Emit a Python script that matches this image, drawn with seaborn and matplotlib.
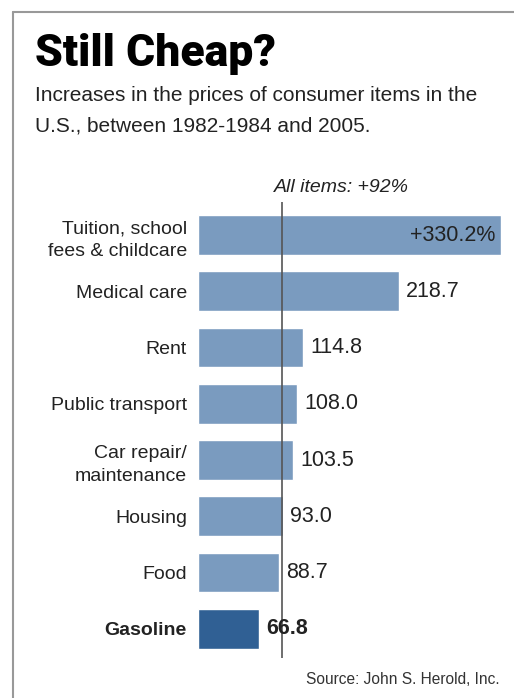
import seaborn as sns
import matplotlib.pyplot as plt
from matplotlib.lines import Line2D

# Data
categories = ['Tuition, school\nfees & childcare', 'Medical care', 'Rent', 'Public transport',
              'Car repair/\nmaintenance', 'Housing', 'Food', 'Gasoline']
increases = [330.2, 218.7, 114.8, 108.0, 103.5, 93.0, 88.7, 66.8]
value_labels = ['+330.2%', '218.7', '114.8', '108.0', '103.5', '93.0', '88.7', '66.8']
all_items = 92

light_blue = '#7a9bbf'
dark_blue = '#306094'
bar_colors = [light_blue] * 7 + [dark_blue]

sns.set_style('white')
plt.rcParams['font.family'] = ['Liberation Sans', 'DejaVu Sans']

fig = plt.figure(figsize=(5.14, 6.98), dpi=100)
W, H = 514, 698
ax = fig.add_axes([198 / W, 1 - 658 / H, 303 / W, (658 - 202) / H])

sns.barplot(x=increases, y=categories, hue=categories, palette=bar_colors,
            orient='h', width=0.71, legend=False, ax=ax, saturation=1)

ax.set_xlim(0, 330.2)
ax.set_ylim(7.52, -0.587)
ax.axvline(all_items, color='#555555', lw=1.2, zorder=3)
ax.set_xticks([])
ax.set_xlabel('')
ax.set_ylabel('')
sns.despine(ax=ax, left=True, bottom=True)
ax.tick_params(axis='y', length=0, pad=8)
for i, lab in enumerate(ax.get_yticklabels()):
    lab.set_fontsize(14)
    lab.set_color('#222222')
    lab.set_linespacing(1.45)
    if i == len(categories) - 1:
        lab.set_fontweight('bold')

# value labels
for i, (v, t) in enumerate(zip(increases, value_labels)):
    if i == 0:
        ax.annotate(t, xy=(v, i), xytext=(-4, 0), textcoords='offset points',
                    ha='right', va='center', fontsize=15.5, color='#222222')
    else:
        ax.annotate(t, xy=(v, i), xytext=(5, 0), textcoords='offset points',
                    ha='left', va='center', fontsize=15.5, color='#222222',
                    fontweight='bold' if i == len(categories) - 1 else 'normal')

ax.annotate(f'All items: +{all_items}%', xy=(all_items, 1), xycoords=('data', 'axes fraction'),
            xytext=(-6, 4), textcoords='offset points', ha='left', va='bottom',
            fontsize=14, style='italic', color='#222222')

# title and subtitle
fig.text(35 / W, 1 - 66 / H, 'Still Cheap?', fontsize=32, fontweight=900,
         family=['Roboto', 'Liberation Sans'], color='black', ha='left', va='baseline')
fig.text(35 / W, 1 - 101 / H, 'Increases in the prices of consumer items in the',
         fontsize=15, color='#222222', ha='left', va='baseline')
fig.text(35 / W, 1 - 131 / H, 'U.S., between 1982-1984 and 2005.',
         fontsize=15, color='#222222', ha='left', va='baseline')
fig.text(500 / W, 1 - 684 / H, 'Source: John S. Herold, Inc.', fontsize=11.2,
         color='#333333', ha='right', va='baseline')

# frame lines
fig.add_artist(Line2D([13 / W, 13 / W], [0, 1 - 12 / H], color='#999999', lw=1.5))
fig.add_artist(Line2D([13 / W, 1], [1 - 12 / H, 1 - 12 / H], color='#999999', lw=1.5))

fig.savefig('out.png', dpi=100)
